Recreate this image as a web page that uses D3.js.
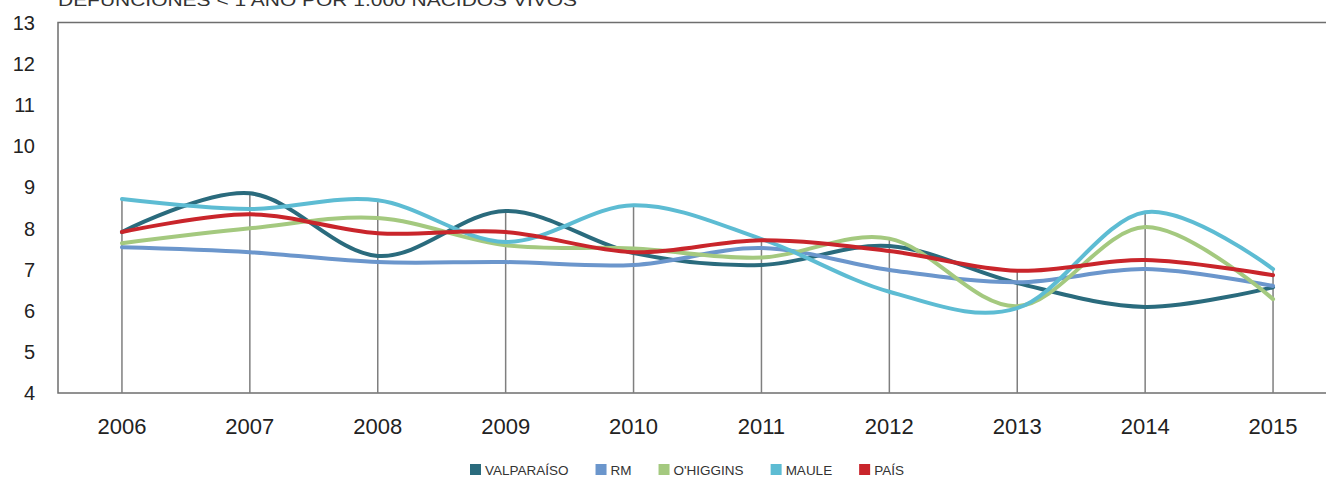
<!DOCTYPE html>
<html>
<head>
<meta charset="utf-8">
<script src="https://cdn.jsdelivr.net/npm/d3@7"></script>
<style>
  body { margin: 0; background: #fff; }
  svg { display: block; font-family: "Liberation Sans", Arial, sans-serif; }
</style>
</head>
<body>
<div id="chart"></div>
<script>
// data
const years = ["2006", "2007", "2008", "2009", "2010", "2011", "2012", "2013", "2014", "2015"];
const valparaiso = [7.91, 8.85, 7.33, 8.42, 7.40, 7.11, 7.57, 6.67, 6.09, 6.57];
const rm = [7.54, 7.42, 7.18, 7.18, 7.11, 7.52, 6.99, 6.69, 7.01, 6.60];
const ohiggins = [7.64, 8.00, 8.25, 7.59, 7.51, 7.29, 7.75, 6.11, 8.03, 6.28];
const maule = [8.71, 8.47, 8.68, 7.67, 8.56, 7.74, 6.46, 6.06, 8.39, 7.01];
const pais = [7.91, 8.34, 7.88, 7.91, 7.42, 7.71, 7.45, 6.97, 7.23, 6.86];
const seriesNames = ["VALPARAÍSO", "RM", "O'HIGGINS", "MAULE", "PAÍS"];
const yTicks = [4, 5, 6, 7, 8, 9, 10, 11, 12, 13];
const title = "DEFUNCIONES < 1 AÑO POR 1.000 NACIDOS VIVOS";

const colors = ["#2a6b7d", "#6b96cc", "#a4c97f", "#5dbcd3", "#c9252b"];
const allSeries = [valparaiso, rm, ohiggins, maule, pais];

const width = 1326, height = 478;
const plotLeft = 58, plotRight = 1337, plotTop = 22.5, plotBottom = 393;

const svg = d3.select("#chart").append("svg")
    .attr("width", width)
    .attr("height", height);

const x = d3.scaleBand().domain(years).range([plotLeft, plotRight]);
const y = d3.scaleLinear().domain([4, 13]).range([plotBottom, plotTop]);
const cx = d => x(d) + x.bandwidth() / 2;

// title (partly clipped at the top, as in the picture)
svg.append("text")
    .attr("x", plotLeft)
    .attr("y", 6)
    .attr("font-size", 17)
    .attr("fill", "#333")
    .attr("textLength", 519)
    .attr("lengthAdjust", "spacingAndGlyphs")
    .text(title);

// plot frame
svg.append("rect")
    .attr("x", plotLeft)
    .attr("y", plotTop)
    .attr("width", plotRight - plotLeft)
    .attr("height", plotBottom - plotTop)
    .attr("fill", "none")
    .attr("stroke", "#6e6e6e")
    .attr("stroke-width", 1.5);

// y labels
svg.append("g").selectAll("text")
    .data(yTicks)
    .enter().append("text")
    .attr("x", 35)
    .attr("y", d => y(d))
    .attr("dy", "0.36em")
    .attr("text-anchor", "end")
    .attr("font-size", 20)
    .attr("fill", "#222")
    .text(d => d);

// x labels
svg.append("g").selectAll("text")
    .data(years)
    .enter().append("text")
    .attr("x", d => cx(d))
    .attr("y", 434)
    .attr("text-anchor", "middle")
    .attr("font-size", 22)
    .attr("fill", "#222")
    .text(d => d);

// drop lines from the highest point to the axis
svg.append("g").selectAll("line")
    .data(years)
    .enter().append("line")
    .attr("x1", d => cx(d))
    .attr("x2", d => cx(d))
    .attr("y1", (d, i) => y(d3.max(allSeries, s => s[i])))
    .attr("y2", plotBottom)
    .attr("stroke", "#7f7f7f")
    .attr("stroke-width", 1.5);

const line = d3.line()
    .x(d => cx(d.year))
    .y(d => y(d.v))
    .curve(d3.curveCardinal);

allSeries.forEach(function (s, k) {
    svg.append("path")
        .datum(s.map((v, i) => ({ year: years[i], v: v })))
        .attr("d", line)
        .attr("fill", "none")
        .attr("stroke", colors[k])
        .attr("stroke-width", 4)
        .attr("stroke-linecap", "round");
});

// legend
const legend = svg.append("g").attr("transform", "translate(470,475)");
let lx = 0;
seriesNames.forEach(function (name, k) {
    const g = legend.append("g").attr("transform", "translate(" + lx + ",0)");
    g.append("rect")
        .attr("x", 0)
        .attr("y", -11)
        .attr("width", 11)
        .attr("height", 11)
        .attr("fill", colors[k]);
    const t = g.append("text")
        .attr("x", 15)
        .attr("y", 0)
        .attr("font-size", 13.5)
        .attr("fill", "#333")
        .text(name);
    lx += 15 + t.node().getComputedTextLength() + 27;
});
</script>
</body>
</html>
